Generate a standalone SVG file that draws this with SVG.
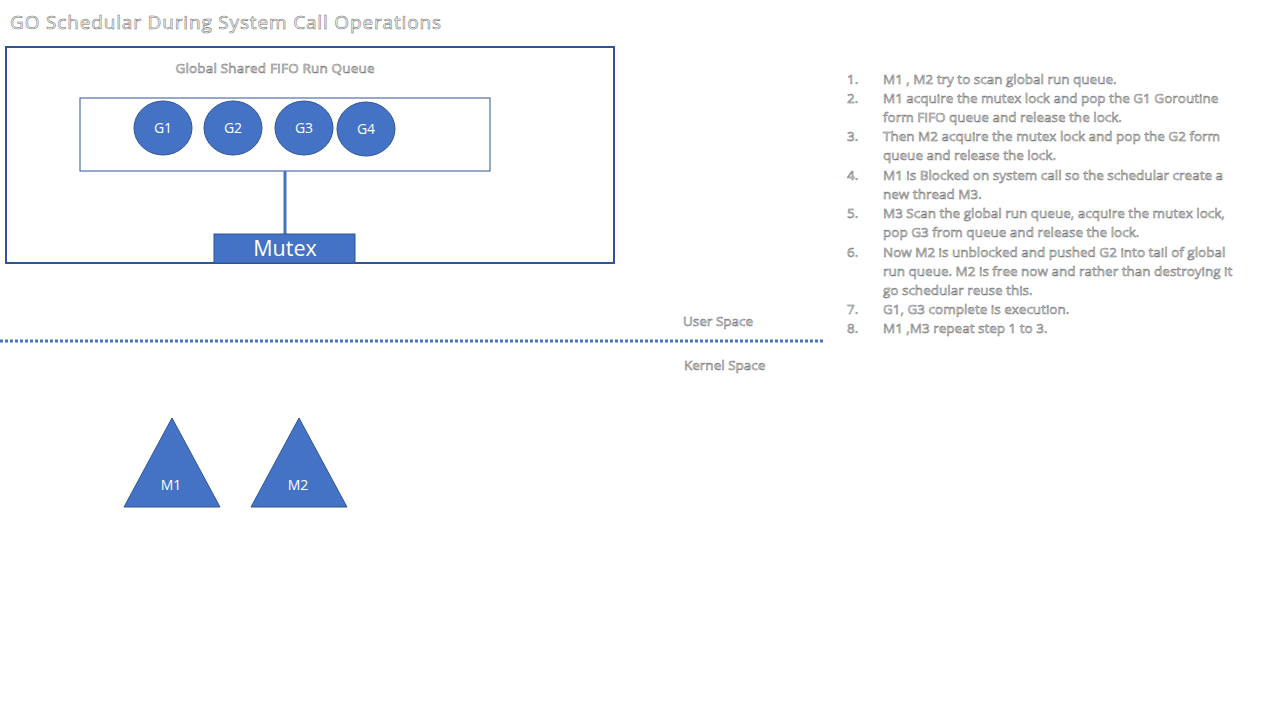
<svg xmlns="http://www.w3.org/2000/svg" width="1280" height="720" viewBox="0 0 1280 720">
<style>
.ghost{fill:#ffffff;stroke:#707070;stroke-width:0.55;font-family:"Open Sans","Liberation Sans",sans-serif}
.lst{font-size:13.5px}
.wt{fill:#ffffff;font-family:"Open Sans","Liberation Sans",sans-serif;text-anchor:middle}
.g{fill:#4472C4;stroke:#2F5597;stroke-width:1}
</style>
<rect width="1280" height="720" fill="#ffffff"/>
<text class="ghost" x="10" y="29" font-size="19" textLength="431">GO Schedular During System Call Operations</text>
<g id="queue-box">
<rect x="6" y="47" width="608" height="216" fill="#ffffff" stroke="#2F5597" stroke-width="2"/>
<text class="ghost" x="275" y="73" font-size="13.5" text-anchor="middle" textLength="199">Global Shared FIFO Run Queue</text>
</g>
<g id="queue">
<rect x="80" y="98" width="410" height="73" fill="#ffffff" stroke="#2F5597" stroke-width="1"/>
</g>
<g id="connectors">
<line x1="285" y1="171" x2="285" y2="234" stroke="#4472C4" stroke-width="3"/>
<line x1="0" y1="341" x2="824" y2="341" stroke="#4472C4" stroke-width="3" stroke-dasharray="3 2"/>
</g>
<g id="G1"><ellipse class="g" cx="163" cy="128" rx="29" ry="27"/><text class="wt" x="163" y="133" font-size="14">G1</text></g>
<g id="G2"><ellipse class="g" cx="233" cy="128" rx="29" ry="27"/><text class="wt" x="233" y="133" font-size="14">G2</text></g>
<g id="G3"><ellipse class="g" cx="304" cy="128" rx="29" ry="27"/><text class="wt" x="304" y="133" font-size="14">G3</text></g>
<g id="G4"><ellipse class="g" cx="366" cy="129" rx="29" ry="27"/><text class="wt" x="366" y="134" font-size="14">G4</text></g>
<g id="mutex"><rect class="g" x="214" y="234" width="141" height="29"/><text class="wt" x="285" y="256" font-size="21.5">Mutex</text></g>
<g id="spaces">
<text class="ghost" x="683" y="326" font-size="13.5">User Space</text>
<text class="ghost" x="684" y="370" font-size="13.5">Kernel Space</text>
</g>
<g id="M1"><polygon class="g" points="172,418 220,507 124,507"/><text class="wt" x="171" y="490" font-size="14">M1</text></g>
<g id="M2"><polygon class="g" points="299,418 347,507 251,507"/><text class="wt" x="298" y="490" font-size="14">M2</text></g>
<g id="steps" class="ghost lst">
<text x="847" y="84">1.</text><text x="883" y="84">M1 , M2 try to scan global run queue.</text>
<text x="847" y="103">2.</text><text x="883" y="103">M1  acquire the mutex lock and pop the G1 Goroutine</text>
<text x="883" y="122">form FIFO queue and release the lock.</text>
<text x="847" y="141">3.</text><text x="883" y="141">Then M2 acquire the mutex lock and pop the G2 form</text>
<text x="883" y="160">queue and release the lock.</text>
<text x="847" y="180">4.</text><text x="883" y="180">M1 is Blocked on system call so the schedular create a</text>
<text x="883" y="199">new thread M3.</text>
<text x="847" y="218">5.</text><text x="883" y="218">M3 Scan the global run queue, acquire the mutex lock,</text>
<text x="883" y="237">pop G3 from queue and release the lock.</text>
<text x="847" y="257">6.</text><text x="883" y="257">Now M2 is unblocked and pushed G2 into tail of global</text>
<text x="883" y="276">run queue. M2 is free now and rather than destroying it</text>
<text x="883" y="295">go schedular reuse this.</text>
<text x="847" y="314">7.</text><text x="883" y="314">G1, G3 complete is execution.</text>
<text x="847" y="333">8.</text><text x="883" y="333">M1 ,M3  repeat step 1 to 3.</text>
</g>
</svg>
